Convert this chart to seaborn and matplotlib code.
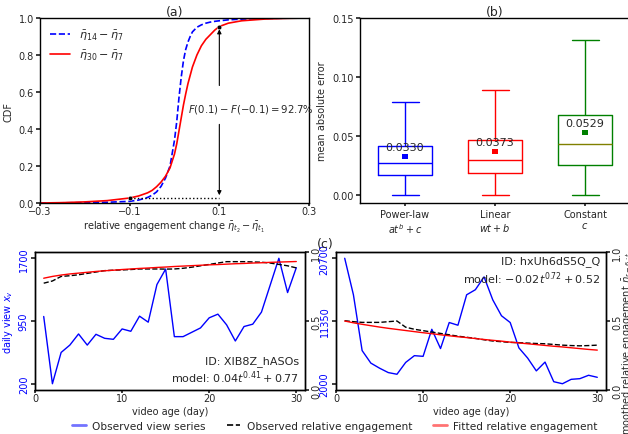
import matplotlib
matplotlib.use("Agg")
import numpy as np
import pandas as pd
import matplotlib.pyplot as plt
import seaborn as sns
from matplotlib.lines import Line2D

# ---- (a) CDF of relative engagement change ----
cdf_x = [-0.3, -0.25, -0.2, -0.15, -0.1, -0.08, -0.06, -0.05, -0.04, -0.03, -0.02, -0.01,
         0.0, 0.005, 0.01, 0.015, 0.02, 0.025, 0.03, 0.035, 0.04, 0.05, 0.06, 0.07, 0.08,
         0.09, 0.1, 0.12, 0.15, 0.2, 0.25, 0.3]
cdf_14_7 = [0.0, 0.001, 0.002, 0.004, 0.009, 0.016, 0.03, 0.042, 0.06, 0.09, 0.135, 0.2,
            0.34, 0.44, 0.57, 0.68, 0.77, 0.83, 0.87, 0.9, 0.925, 0.95, 0.963, 0.972, 0.978,
            0.982, 0.985, 0.99, 0.994, 0.998, 0.999, 1.0]
cdf_30_7 = [0.0, 0.002, 0.006, 0.013, 0.027, 0.038, 0.055, 0.068, 0.088, 0.113, 0.145, 0.19,
            0.265, 0.32, 0.39, 0.46, 0.53, 0.59, 0.645, 0.69, 0.735, 0.80, 0.85, 0.885, 0.91,
            0.935, 0.954, 0.972, 0.985, 0.994, 0.998, 1.0]
mark_x = [-0.1, 0.1]
mark_y = [0.027, 0.954]

# ---- (b) mean absolute error per model ----
models = ["Power-law", "Linear", "Constant"]
model_forms = ["$at^b+c$", "$wt+b$", "$c$"]
mae_low = [0.0, 0.0, 0.0]
mae_q1 = [0.017, 0.019, 0.026]
mae_median = [0.027, 0.030, 0.043]
mae_q3 = [0.042, 0.047, 0.068]
mae_high = [0.079, 0.089, 0.131]
mae_mean = [0.0330, 0.0373, 0.0529]
box_colors = ["blue", "red", "green"]

# ---- (c) two example videos ----
days = list(range(1, 31))
views_1 = [1004, 200, 574, 662, 795, 662, 791, 743, 731, 855, 827, 1008, 936, 1386, 1571,
           763, 763, 815, 867, 988, 1032, 904, 711, 884, 912, 1056, 1378, 1700, 1290, 1587]
eng_obs_1 = [0.774, 0.79, 0.823, 0.828, 0.835, 0.845, 0.855, 0.865, 0.868, 0.870, 0.873, 0.877,
             0.877, 0.877, 0.876, 0.877, 0.882, 0.89, 0.90, 0.91, 0.92, 0.93, 0.93, 0.93, 0.928,
             0.926, 0.92, 0.91, 0.90, 0.885]
eng_fit_1 = [0.810, 0.823, 0.833, 0.841, 0.847, 0.853, 0.859, 0.864, 0.868, 0.873, 0.877, 0.881,
             0.884, 0.888, 0.891, 0.895, 0.898, 0.901, 0.904, 0.907, 0.909, 0.912, 0.915, 0.917,
             0.920, 0.922, 0.925, 0.927, 0.929, 0.931]
views_2 = [20700, 15256, 6940, 5075, 4319, 3663, 3411, 5175, 6183, 6083, 10115, 7242, 11123,
           10720, 15256, 16012, 17927, 14500, 12131, 11123, 7343, 5831, 3915, 5226, 2302, 2000,
           2655, 2756, 3260, 2958]
eng_obs_2 = [0.502, 0.495, 0.49, 0.49, 0.49, 0.495, 0.50, 0.455, 0.44, 0.43, 0.42, 0.41, 0.40,
             0.39, 0.382, 0.374, 0.364, 0.355, 0.35, 0.345, 0.343, 0.34, 0.337, 0.335, 0.33,
             0.325, 0.322, 0.32, 0.322, 0.325]
eng_fit_2 = [0.500, 0.487, 0.476, 0.466, 0.456, 0.447, 0.439, 0.431, 0.423, 0.415, 0.408, 0.400,
             0.393, 0.386, 0.380, 0.373, 0.366, 0.360, 0.354, 0.347, 0.341, 0.335, 0.329, 0.323,
             0.317, 0.312, 0.306, 0.300, 0.294, 0.289]

sns.set_theme(style="ticks")
plt.rcParams.update({
    "font.family": ["DejaVu Sans"],
    "font.size": 7,
    "axes.labelsize": 7,
    "xtick.labelsize": 7,
    "ytick.labelsize": 7,
    "axes.edgecolor": "black",
    "axes.linewidth": 1.0,
    "xtick.major.size": 2,
    "ytick.major.size": 3,
    "xtick.major.pad": 0.5,
    "ytick.major.pad": 1.5,
    "axes.labelpad": 1.5,
})

W, H = 628, 435
fig = plt.figure(figsize=(W / 100, H / 100), dpi=100)


def box(l, r, t, b):
    return [l / W, 1 - b / H, (r - l) / W, (b - t) / H]


# ----------------- (a) -----------------
ax_a = fig.add_axes(box(40, 309, 19, 204))
sns.lineplot(x=cdf_x, y=cdf_14_7, ax=ax_a, color="blue", linestyle="--", lw=1.2,
             label=r"$\bar{\eta}_{14}-\bar{\eta}_{7}$")
sns.lineplot(x=cdf_x, y=cdf_30_7, ax=ax_a, color="red", lw=1.2,
             label=r"$\bar{\eta}_{30}-\bar{\eta}_{7}$")
ax_a.plot(mark_x, [mark_y[0], mark_y[0]], color="black", linestyle=":", lw=1)
sns.scatterplot(x=mark_x, y=mark_y, ax=ax_a, color="black", s=10, zorder=5)
ax_a.annotate("", xy=(mark_x[1], mark_y[1]), xytext=(mark_x[1], 0.62),
              arrowprops=dict(arrowstyle="-|>", color="black", lw=0.8, mutation_scale=6))
ax_a.annotate("", xy=(mark_x[1], mark_y[0]), xytext=(mark_x[1], 0.44),
              arrowprops=dict(arrowstyle="-|>", color="black", lw=0.8, mutation_scale=6))
ax_a.text(0.029, 0.51, r"$F(0.1)-F(-0.1)=92.7\%$", fontsize=7.3, ha="left", va="center")
ax_a.set_xlim(-0.3, 0.3)
ax_a.set_ylim(0, 1)
ax_a.set_xticks([-0.3, -0.1, 0.1, 0.3])
ax_a.set_yticks([0.0, 0.2, 0.4, 0.6, 0.8, 1.0])
ax_a.set_xlabel(r"relative engagement change $\bar{\eta}_{t_2}-\bar{\eta}_{t_1}$")
ax_a.set_ylabel("CDF")
ax_a.yaxis.set_label_coords(-0.1, 0.5)
ax_a.set_title("(a)", fontsize=9, pad=2)
ax_a.legend(loc="upper left", frameon=False, fontsize=8, handlelength=1.8)

# ----------------- (b) -----------------
ax_b = fig.add_axes(box(360, 630, 19, 204))
df_box = pd.DataFrame({
    "model": np.repeat(models, 5),
    "mae": np.ravel(np.column_stack([mae_low, mae_q1, mae_median, mae_q3, mae_high])),
})
sns.boxplot(data=df_box, x="model", y="mae", hue="model", palette=box_colors, fill=False,
            width=0.6, whis=(0, 100), linewidth=1, legend=False, ax=ax_b)
ax_b.containers[2].medians[0].set_color("#808000")
sns.scatterplot(x=models, y=mae_mean, hue=models, palette=box_colors, marker="s", s=14,
                legend=False, ax=ax_b, zorder=5, linewidth=0)
for i, m in enumerate(mae_mean):
    ax_b.text(i, m + 0.008, f"{m:.4f}", ha="center", va="center", fontsize=8)
ax_b.set_ylim(-0.0065, 0.15)
ax_b.set_xlim(-0.5, 2.5)
ax_b.set_yticks([0.0, 0.05, 0.10, 0.15])
ax_b.set_yticklabels(["0.00", "0.05", "0.10", "0.15"])
ax_b.set_xticks(range(3))
ax_b.set_xticklabels([f"{m}\n{f}" for m, f in zip(models, model_forms)])
ax_b.tick_params(axis="x", pad=2)
ax_b.set_xlabel("")
ax_b.set_ylabel("mean absolute error")
ax_b.yaxis.set_label_coords(-0.122, 0.5)
ax_b.set_title("(b)", fontsize=9, pad=2)


# ----------------- (c) -----------------
def video_panel(ax, views, eng_obs, eng_fit):
    sns.lineplot(x=days, y=views, ax=ax, color="blue", lw=1)
    lo, hi = min(views), max(views)
    ax.set_yticks([lo, (lo + hi) / 2, hi])
    ax.set_yticklabels([f"{v:g}" for v in [lo, (lo + hi) / 2, hi]])
    ax.tick_params(axis="y", labelrotation=90, labelcolor="blue")
    for t in ax.get_yticklabels():
        t.set_va("center")
    ax.set_xlim(0, 31)
    ax.set_xticks([0, 10, 20, 30])
    ax.set_xlabel("video age (day)")
    ax2 = ax.twinx()
    sns.lineplot(x=days, y=eng_obs, ax=ax2, color="black", linestyle="--", lw=1)
    sns.lineplot(x=days, y=eng_fit, ax=ax2, color="red", lw=1)
    ax2.set_ylim(0, 1)
    ax2.set_yticks([0.0, 0.5, 1.0])
    ax2.tick_params(axis="y", labelrotation=90)
    for t in ax2.get_yticklabels():
        t.set_va("center")
    return ax2


ax_c1 = fig.add_axes(box(35, 305, 253, 391))
video_panel(ax_c1, views_1, eng_obs_1, eng_fit_1)
ax_c1.set_ylabel(r"daily view $x_v$", color="blue")
ax_c1.yaxis.set_label_coords(-0.074, 0.5)
ax_c1.text(0.978, 0.035, "ID: XIB8Z_hASOs\n" + r"model: $0.04t^{0.41}+0.77$",
           transform=ax_c1.transAxes, ha="right", va="bottom", fontsize=8, linespacing=1.2)

ax_c2 = fig.add_axes(box(336, 606, 253, 391))
ax_c2r = video_panel(ax_c2, views_2, eng_obs_2, eng_fit_2)
ax_c2r.set_ylabel(r"smoothed relative engagement $\bar{\eta}_{r-6:t}$", fontsize=7)
ax_c2r.yaxis.set_label_coords(1.055, 0.33)
ax_c2.set_ylabel("")
ax_c2.text(0.978, 0.975, "ID: hxUh6dS5Q_Q\n" + r"model: $-0.02t^{0.72}+0.52$",
           transform=ax_c2.transAxes, ha="right", va="top", fontsize=8, linespacing=1.2)

fig.text(325 / W, 1 - 245 / H, "(c)", ha="center", va="center", fontsize=9)

handles = [
    Line2D([], [], color="blue", lw=2, alpha=0.55),
    Line2D([], [], color="black", lw=1.2, linestyle="--"),
    Line2D([], [], color="red", lw=2, alpha=0.55),
]
labels = ["Observed view series", "Observed relative engagement", "Fitted relative engagement"]
fig.legend(handles, labels, loc="center", bbox_to_anchor=(335 / W, 8 / H), ncol=3,
           frameon=False, fontsize=7.6, handlelength=1.3, handletextpad=0.6,
           columnspacing=2.0)

fig.savefig("out.png", dpi=100)
